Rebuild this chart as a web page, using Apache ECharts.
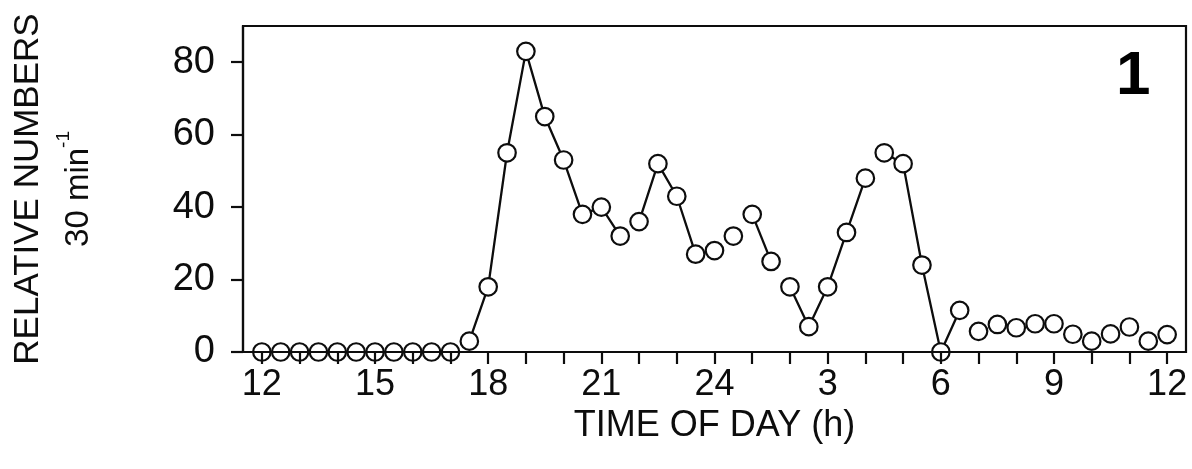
<!DOCTYPE html>
<html><head><meta charset="utf-8">
<script src="https://cdn.jsdelivr.net/npm/echarts@6/dist/echarts.min.js"></script>
<style>html,body{margin:0;padding:0;background:#fff}#c{width:1192px;height:469px}</style>
</head><body><div id="c"></div>
<script>
// half-hourly sampling times (hours, 12 = noon day 1, 36 = noon day 2)
const times = [12,12.5,13,13.5,14,14.5,15,15.5,16,16.5,17,17.5,18,18.5,19,19.5,20,20.5,21,21.5,22,22.5,23,23.5,24,
               24.5,25,25.5,26,26.5,27,27.5,28,28.5,29,29.5,30,30.5,31,31.5,32,32.5,33,33.5,34,34.5,35,35.5,36];
const counts = [0,0,0,0,0,0,0,0,0,0,0,3,18,55,83,65,53,38,40,32,36,52,43,27,28,
                32,38,25,18,7,18,33,48,55,52,24,0,11.5,5.7,7.6,6.7,7.8,7.8,4.9,3,5,6.9,3,4.8];
// connected stretches of the curve [from, to] (hours)
const lineRuns = [[17.5,21.5],[22,24],[25,25.5],[26,28],[28.5,30.5]];
const tickHours = [12,13,14,15,16,17,18,19,20,21,22,23,24,25,26,27,28,29,30,31,32,33,34,35,36];
const labelHours = [12,15,18,21,24,27,30,33,36];
const labelTexts = ['12','15','18','21','24','3','6','9','12'];
const yTicks = [0,20,40,60,80];
const xTitle = 'TIME OF DAY (h)';
const yTitle = 'RELATIVE NUMBERS';
const yUnit = '30 min';
const yUnitExp = '-1';
const panelLabel = '1';

const INK = '#0d0d0d';
const FONT = "'Liberation Sans', Arial, Helvetica, sans-serif";

const points = times.map((t, i) => [t, counts[i]]);
const lineSeries = lineRuns.map(([a, b]) => ({
  type: 'line',
  data: points.filter(p => p[0] >= a && p[0] <= b),
  symbol: 'none',
  lineStyle: { color: INK, width: 2.3 },
  z: 1, silent: true, animation: false
}));

const chart = echarts.init(document.getElementById('c'), null, { renderer: 'canvas' });
chart.setOption({
  backgroundColor: '#ffffff',
  animation: false,
  grid: { left: 243, right: 6, top: 26, bottom: 117, show: true, borderColor: INK, borderWidth: 2.2,
          backgroundColor: 'transparent', containLabel: false, outerBoundsMode: 'none' },
  xAxis: {
    type: 'value', min: 11.5, max: 36.5, z: 5,
    splitLine: { show: false },
    axisLine: { show: true, onZero: false, lineStyle: { color: INK, width: 2.2 } },
    axisTick: { show: true, customValues: tickHours, length: 12, lineStyle: { color: INK, width: 2.2 } },
    axisLabel: { customValues: labelHours, color: INK, fontFamily: FONT, fontSize: 36, margin: 15,
      formatter: v => labelTexts[labelHours.indexOf(v)] },
    name: xTitle, nameLocation: 'middle', nameGap: 48,
    nameTextStyle: { color: INK, fontFamily: FONT, fontSize: 36 }
  },
  yAxis: {
    type: 'value', min: 0, max: 90,
    splitLine: { show: false },
    axisLine: { show: true, lineStyle: { color: INK, width: 2.2 } },
    axisTick: { show: true, customValues: yTicks, length: 12, lineStyle: { color: INK, width: 2.2 } },
    axisLabel: { customValues: yTicks, color: INK, fontFamily: FONT, fontSize: 38, margin: 28 },
    name: '{t|' + yTitle + '}\n{u|' + yUnit + '}{s|' + yUnitExp + '}',
    nameLocation: 'middle', nameGap: 139, nameRotate: 90,
    nameTextStyle: {
      color: INK, align: 'center',
      rich: {
        t: { fontFamily: FONT, fontSize: 35, lineHeight: 52, color: INK },
        u: { fontFamily: FONT, fontSize: 33, lineHeight: 50, color: INK },
        s: { fontFamily: FONT, fontSize: 19, lineHeight: 50, verticalAlign: 'top', color: INK }
      }
    }
  },
  graphic: [{
    type: 'text', left: 1116, top: 46,
    style: { text: panelLabel, font: "bold 62px 'Liberation Sans', Arial, sans-serif", fill: '#000' }
  }],
  series: lineSeries.concat([{
    type: 'scatter',
    data: points,
    symbol: 'circle', symbolSize: 17.5,
    itemStyle: { color: '#ffffff', borderColor: INK, borderWidth: 2.2, opacity: 1 },
    z: 2, silent: true, animation: false
  }])
});
</script>
</body></html>
